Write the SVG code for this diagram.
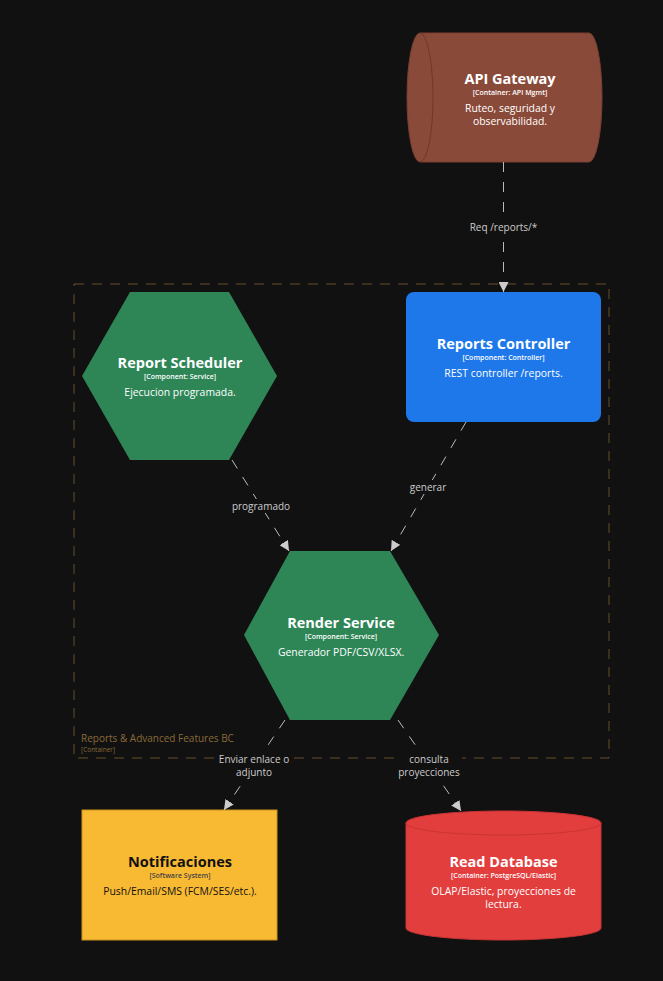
<svg xmlns="http://www.w3.org/2000/svg" width="663" height="981" viewBox="0 0 663 981">
  <defs>
    <marker id="arrow" viewBox="0 0 10 10" refX="10" refY="5" markerWidth="10" markerHeight="10" markerUnits="userSpaceOnUse" orient="auto">
      <path d="M0,0 L10,5 L0,10 z" fill="#cccccc"/>
    </marker>
    <style>
      text { font-family: "Open Sans", "Noto Sans", "DejaVu Sans", sans-serif; text-anchor: middle; }
      .title { font-size: 14.5px; font-weight: 700; fill: #ffffff; }
      .type { font-size: 7px; font-weight: 600; fill: #ffffff; }
      .desc { font-size: 10.4px; fill: #ffffff; }
      .dark .title, .dark .desc { fill: #111111; }
      .dark .type { fill: #444444; }
      .edge { fill: none; stroke: #bbbbbb; stroke-width: 1; stroke-dasharray: 10 10; marker-end: url(#arrow); }
      .elabel { font-size: 10px; fill: #cccccc; }
      .lbg { fill: #111111; }
    </style>
  </defs>

  <rect width="663" height="981" fill="#111111"/>

  <!-- boundary -->
  <g id="boundary">
    <rect x="74" y="284" width="535" height="474" fill="none" stroke="#66502c" stroke-width="1" stroke-dasharray="10 8"/>
    <text x="81" y="742" style="text-anchor:start;font-size:10px;fill:#8a6a38">Reports &amp; Advanced Features BC</text>
    <text x="81" y="752" style="text-anchor:start;font-size:6.5px;fill:#8a6a38">[Container]</text>
  </g>

  <!-- nodes -->
  <g id="api-gateway">
    <path d="M420,33 L589,33 A13,64.5 0 0 1 589,162 L420,162 A13,64.5 0 0 1 420,33 z" fill="#8a4a3a" stroke="#7a3e30"/>
    <path d="M420,33 A13,64.5 0 0 1 420,162" fill="none" stroke="#6e382b"/>
    <text class="title" x="510" y="84">API Gateway</text>
    <text class="type" x="510" y="95">[Container: API Mgmt]</text>
    <text class="desc" x="510" y="112">Ruteo, seguridad y</text>
    <text class="desc" x="510" y="125">observabilidad.</text>
  </g>

  <g id="report-scheduler">
    <polygon points="130,292 229,292 277,376 229,460 130,460 82,376" fill="#2e8657"/>
    <text class="title" x="180" y="368">Report Scheduler</text>
    <text class="type" x="180" y="379">[Component: Service]</text>
    <text class="desc" x="180" y="396">Ejecucion programada.</text>
  </g>

  <g id="reports-controller">
    <rect x="406" y="292" width="195" height="130" rx="8" fill="#1e78ea"/>
    <text class="title" x="503.5" y="349">Reports Controller</text>
    <text class="type" x="503.5" y="360">[Component: Controller]</text>
    <text class="desc" x="503.5" y="377">REST controller /reports.</text>
  </g>

  <g id="render-service">
    <polygon points="290,551 390,551 439,635 390,720 290,720 244,635" fill="#2e8657"/>
    <text class="title" x="341" y="628">Render Service</text>
    <text class="type" x="341" y="639">[Component: Service]</text>
    <text class="desc" x="341" y="656">Generador PDF/CSV/XLSX.</text>
  </g>

  <g id="notificaciones" class="dark">
    <rect x="82" y="810" width="195" height="130" fill="#f9ba33" stroke="#c9921e"/>
    <text class="title" x="180" y="867">Notificaciones</text>
    <text class="type" x="180" y="878">[Software System]</text>
    <text class="desc" x="180" y="895">Push/Email/SMS (FCM/SES/etc.).</text>
  </g>

  <g id="read-database">
    <path d="M406,823 A97.5,12 0 0 1 601,823 L601,928 A97.5,12 0 0 1 406,928 z" fill="#e33e3e" stroke="#c93434"/>
    <path d="M406,823 A97.5,12 0 0 0 601,823" fill="none" stroke="#c93434"/>
    <text class="title" x="503.5" y="867">Read Database</text>
    <text class="type" x="503.5" y="878">[Container: PostgreSQL/Elastic]</text>
    <text class="desc" x="503.5" y="895">OLAP/Elastic, proyecciones de</text>
    <text class="desc" x="503.5" y="908">lectura.</text>
  </g>

  <!-- connectors -->
  <g id="connectors">
    <path class="edge" d="M503.5,162 L503.5,292"/>
    <path class="edge" d="M232,460 L289,551"/>
    <path class="edge" d="M466,422 L391,551"/>
    <path class="edge" d="M285,720 L224,810"/>
    <path class="edge" d="M398,720 L461,811"/>

    <rect class="lbg" x="466" y="220" width="75" height="14"/>
    <text class="elabel" x="503.5" y="231">Req /reports/*</text>
    <rect class="lbg" x="229" y="499" width="64" height="14"/>
    <text class="elabel" x="261" y="510">programado</text>
    <rect class="lbg" x="407" y="480" width="42" height="14"/>
    <text class="elabel" x="428" y="491">generar</text>
    <rect class="lbg" x="216" y="752" width="76" height="27"/>
    <text class="elabel" x="254" y="763">Enviar enlace o</text>
    <text class="elabel" x="254" y="776">adjunto</text>
    <rect class="lbg" x="396" y="752" width="66" height="27"/>
    <text class="elabel" x="429" y="763">consulta</text>
    <text class="elabel" x="429" y="776">proyecciones</text>
  </g>
</svg>
